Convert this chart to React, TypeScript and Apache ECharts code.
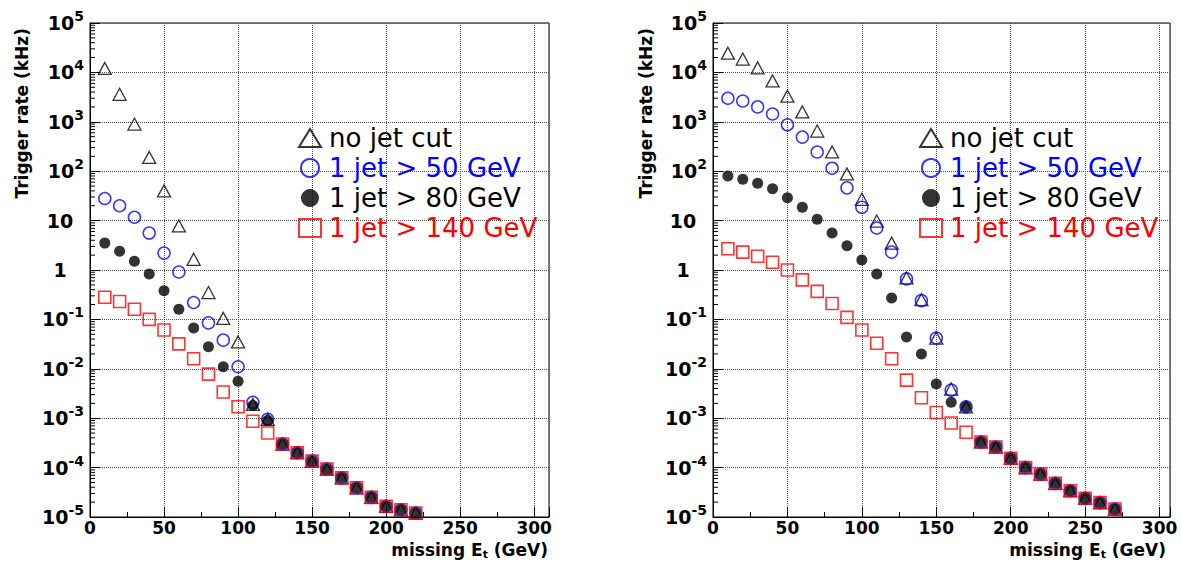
import React, { useEffect, useRef } from 'react';
import * as echarts from 'echarts';

// ---------- data ----------
const seriesNames = ['no jet cut', '1 jet > 50 GeV', '1 jet > 80 GeV', '1 jet > 140 GeV'];

// Left panel
const xLeft = [10, 20, 30, 40, 50, 60, 70, 80, 90, 100, 110, 120, 130, 140, 150, 160, 170, 180, 190, 200, 210, 220];
const leftNoCut = [12000, 3600, 900, 190, 40, 7.8, 1.65, 0.35, 0.105, 0.035, 0.0019, 9.5e-4, 3.0e-4, 2.0e-4, 1.35e-4, 9.3e-5, 6.2e-5, 3.9e-5, 2.5e-5, 1.65e-5, 1.4e-5, 1.2e-5];
const leftJet50 = [28, 20, 11.7, 5.6, 2.2, 0.91, 0.22, 0.085, 0.038, 0.011, 0.0021, 9.5e-4, 3.0e-4, 2.0e-4, 1.35e-4, 9.3e-5, 6.2e-5, 3.9e-5, 2.5e-5, 1.65e-5, 1.4e-5, 1.2e-5];
const leftJet80 = [3.5, 2.4, 1.5, 0.83, 0.38, 0.16, 0.067, 0.028, 0.011, 0.0056, 0.0018, 9.0e-4, 3.0e-4, 2.0e-4, 1.35e-4, 9.3e-5, 6.2e-5, 3.9e-5, 2.5e-5, 1.65e-5, 1.4e-5, 1.2e-5];
const leftJet140 = [0.28, 0.23, 0.16, 0.10, 0.061, 0.032, 0.016, 0.0078, 0.0034, 0.0017, 8.7e-4, 5.0e-4, 3.0e-4, 2.0e-4, 1.35e-4, 9.3e-5, 6.2e-5, 3.9e-5, 2.5e-5, 1.65e-5, 1.4e-5, 1.2e-5];

// Right panel
const xRight = [10, 20, 30, 40, 50, 60, 70, 80, 90, 100, 110, 120, 130, 140, 150, 160, 170, 180, 190, 200, 210, 220, 230, 240, 250, 260, 270];
const rightNoCut = [24500, 18600, 12300, 6700, 3300, 1580, 650, 245, 88, 27, 9.8, 3.5, 0.69, 0.25, 0.042, 0.0039, 0.0017, 3.3e-4, 2.6e-4, 1.55e-4, 1.0e-4, 7.4e-5, 4.8e-5, 3.4e-5, 2.4e-5, 1.95e-5, 1.45e-5];
const rightJet50 = [3000, 2640, 2000, 1440, 870, 490, 245, 115, 46, 18.6, 7.1, 2.3, 0.66, 0.24, 0.042, 0.0037, 0.0017, 3.3e-4, 2.6e-4, 1.55e-4, 1.0e-4, 7.4e-5, 4.8e-5, 3.4e-5, 2.4e-5, 1.95e-5, 1.45e-5];
const rightJet80 = [80, 69, 57, 44, 29, 18.7, 10.7, 5.6, 3.1, 1.6, 0.83, 0.27, 0.044, 0.020, 0.0049, 0.0021, 0.0017, 3.3e-4, 2.6e-4, 1.55e-4, 1.0e-4, 7.4e-5, 4.8e-5, 3.4e-5, 2.4e-5, 1.95e-5, 1.45e-5];
const rightJet140 = [2.7, 2.3, 1.9, 1.44, 1.0, 0.63, 0.37, 0.21, 0.11, 0.061, 0.033, 0.016, 0.0059, 0.0026, 0.0013, 8.0e-4, 5.2e-4, 3.3e-4, 2.6e-4, 1.55e-4, 1.0e-4, 7.4e-5, 4.8e-5, 3.4e-5, 2.4e-5, 1.95e-5, 1.45e-5];

// axis decoration: log minor tick mantissas and decades
const minorMantissas = [2, 3, 4, 5, 6, 7, 8, 9];
const decades = [-5, -4, -3, -2, -1, 0, 1, 2, 3, 4];

const yTitle = 'Trigger rate (kHz)';
const xTitle = 'missing E{sub|t} (GeV)';

const FONT = 'DejaVu Sans';
const BLUE = '#0000ff';
const RED = '#ff0000';

function buildOption() {
  const minorVals: number[][] = [];
  decades.forEach((d) => minorMantissas.forEach((m) => minorVals.push([0, m * Math.pow(10, d)])));

  const grids = [
    { left: 90, top: 23, width: 459, height: 494 },
    { left: 713, top: 23, width: 457, height: 494 },
  ];
  const xMax = [310, 307];

  const xAxis = grids.map((_, i) => ({
    type: 'value',
    gridIndex: i,
    min: 0,
    max: xMax[i],
    interval: 50,
    axisLine: { show: true, lineStyle: { color: '#000', width: 1 } },
    axisTick: { show: true, inside: true, length: 10, lineStyle: { color: '#000' } },
    minorTick: { show: true, splitNumber: 2, length: 5, lineStyle: { color: '#000' } },
    splitLine: { show: true, lineStyle: { color: '#555', type: 'dotted', width: 1 } },
    axisLabel: {
      color: '#000', fontSize: 17, fontWeight: 'bold', fontFamily: FONT, margin: 2,
      showMaxLabel: false,
    },
  }));

  const yAxis = grids.map((_, i) => ({
    type: 'log',
    logBase: 10,
    gridIndex: i,
    min: 1e-5,
    max: 1e5,
    interval: 1,
    axisLine: { show: true, lineStyle: { color: '#000', width: 1 } },
    axisTick: { show: true, inside: true, length: 10, lineStyle: { color: '#000' } },
    splitLine: { show: true, lineStyle: { color: '#555', type: 'dotted', width: 1 } },
    axisLabel: {
      color: '#000',
      margin: 6,
      formatter: (v: number) => {
        const e = Math.round(Math.log10(v));
        if (e === 0) return '{c|1}';
        if (e === 1) return '{c|10}';
        return `{b|10}{s|${e}}`;
      },
      rich: {
        b: { fontSize: 19, fontWeight: 'bold', fontFamily: FONT, color: '#000' },
        s: { fontSize: 14, fontWeight: 'bold', fontFamily: FONT, color: '#000', padding: [0, 0, 14, 0] },
        c: { fontSize: 19, fontWeight: 'bold', fontFamily: FONT, color: '#000', width: 26, align: 'center', padding: [0, 11, 0, 0] },
      },
    },
  }));

  const panels = [
    { x: xLeft, vals: [leftNoCut, leftJet50, leftJet80, leftJet140] },
    { x: xRight, vals: [rightNoCut, rightJet50, rightJet80, rightJet140] },
  ];

  const styles = [
    { symbol: 'triangle', symbolSize: [13, 12], itemStyle: { color: 'rgba(0,0,0,0)', borderColor: '#000', borderWidth: 1.3 } },
    { symbol: 'circle', symbolSize: 12, itemStyle: { color: 'rgba(0,0,0,0)', borderColor: BLUE, borderWidth: 1.5 } },
    { symbol: 'circle', symbolSize: 11, itemStyle: { color: '#000', borderColor: '#000', borderWidth: 0 } },
    { symbol: 'rect', symbolSize: 12, itemStyle: { color: 'rgba(0,0,0,0)', borderColor: RED, borderWidth: 1.6 } },
  ];

  const series: any[] = [];
  panels.forEach((p, gi) => {
    p.vals.forEach((vals, si) => {
      series.push({
        type: 'scatter',
        name: seriesNames[si],
        xAxisIndex: gi,
        yAxisIndex: gi,
        data: p.x.map((x, k) => [x, vals[k]]),
        symbol: styles[si].symbol,
        symbolSize: styles[si].symbolSize,
        itemStyle: styles[si].itemStyle,
        z: 3 + si,
        silent: true,
      });
    });
    series.push({
      type: 'custom',
      name: 'minorTicks' + gi,
      xAxisIndex: gi,
      yAxisIndex: gi,
      silent: true,
      z: 10,
      data: minorVals,
      renderItem: (params: any, api: any) => {
        const pt = api.coord([api.value(0), api.value(1)]);
        return {
          type: 'line',
          shape: { x1: pt[0], y1: pt[1], x2: pt[0] + 5, y2: pt[1] },
          style: { stroke: '#000', lineWidth: 1 },
        };
      },
    });
  });

  const legendColors = ['#000', BLUE, '#000', RED];
  const legend = [293, 914].map((left) => ({
    left,
    top: 120,
    orient: 'vertical',
    itemGap: 4,
    itemWidth: 22,
    itemHeight: 18,
    selectedMode: false,
    data: seriesNames.map((n, i) => ({ name: n, textStyle: { color: legendColors[i] } })),
    textStyle: { fontSize: 26, fontFamily: FONT, padding: [0, 0, 0, 3] },
  }));

  const graphic: any[] = [];
  [22, 646].forEach((x) => {
    graphic.push({
      type: 'text',
      x,
      y: 28,
      rotation: Math.PI / 2,
      style: {
        text: yTitle,
        fontSize: 17,
        fontWeight: 'bold',
        fontFamily: FONT,
        fill: '#000',
        align: 'right',
        verticalAlign: 'middle',
      },
    });
  });
  [548, 1166].forEach((x) => {
    graphic.push({
      type: 'text',
      x,
      y: 550,
      style: {
        text: xTitle,
        fontSize: 17,
        fontWeight: 'bold',
        fontFamily: FONT,
        fill: '#000',
        align: 'right',
        verticalAlign: 'middle',
        rich: {
          sub: { fontSize: 11, fontWeight: 'bold', fontFamily: FONT, fill: '#000', padding: [8, 0, 0, 0] },
        },
      },
    });
  });

  return {
    animation: false,
    backgroundColor: '#fff',
    grid: grids.map((g) => ({ ...g, show: true, borderColor: '#000', borderWidth: 1, backgroundColor: 'transparent' })),
    xAxis,
    yAxis,
    legend,
    series,
    graphic,
  };
}

export default function App() {
  const ref = useRef<HTMLDivElement>(null);
  useEffect(() => {
    if (!ref.current) return;
    const chart = echarts.init(ref.current, undefined, { renderer: 'svg' });
    chart.setOption(buildOption() as any);
    return () => chart.dispose();
  }, []);
  return (
    <div
      ref={ref}
      style={{ position: 'absolute', left: 0, top: 0, width: 1182, height: 563, background: '#fff' }}
    />
  );
}
